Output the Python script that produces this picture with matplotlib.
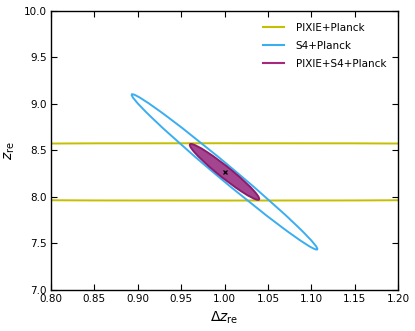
import numpy as np
import matplotlib
matplotlib.use("Agg")
import matplotlib.pyplot as plt
from matplotlib.patches import Ellipse
from matplotlib.lines import Line2D

# Data (forecast contours: centre, half-extents, correlation)
labels = ["PIXIE+Planck", "S4+Planck", "PIXIE+S4+Planck"]
center_x = 1.0
center_y = 8.27
half_x = [1.5, 0.107, 0.040]
half_y = [0.308, 0.835, 0.300]
rho = [0.0, -0.992, -0.965]

xticks = [0.80, 0.85, 0.90, 0.95, 1.00, 1.05, 1.10, 1.15, 1.20]
yticks = [7.0, 7.5, 8.0, 8.5, 9.0, 9.5, 10.0]

edge_colors = ["#c4bf00", "#3aaef0", "#8a1c6e"]
face_colors = ["none", "none", "#a4468f"]
legend_colors = ["#c4bf00", "#3aaef0", "#a8287e"]

plt.rcParams['font.family'] = ['DejaVu Sans']
fig = plt.figure(figsize=(4.15, 3.31), dpi=100)
ax = fig.add_axes([51/415, 1-290/331, (398-51)/415, (290-11)/331])

def ellipse(cx, cy, a, b, r, **kw):
    C = np.array([[a*a, r*a*b], [r*a*b, b*b]])
    vals, vecs = np.linalg.eigh(C)
    order = vals.argsort()[::-1]
    vals, vecs = vals[order], vecs[:, order]
    ang = np.degrees(np.arctan2(vecs[1, 0], vecs[0, 0]))
    return Ellipse((cx, cy), 2*np.sqrt(vals[0]), 2*np.sqrt(vals[1]), angle=ang, **kw)

for i in range(3):
    e = ellipse(center_x, center_y, half_x[i], half_y[i], rho[i],
                facecolor=face_colors[i], edgecolor=edge_colors[i],
                linewidth=1.4, zorder=2 + i)
    ax.add_patch(e)

ax.plot([center_x], [center_y], marker='x', color='black', markersize=3,
        markeredgewidth=0.9, zorder=10)

ax.set_xlim(0.80, 1.20)
ax.set_ylim(7.0, 10.0)
ax.set_xticks(xticks)
ax.set_yticks(yticks)
ax.set_xticklabels([f"{t:.2f}" for t in xticks])
ax.set_yticklabels([f"{t:.1f}" for t in yticks])
ax.tick_params(direction='in', top=True, right=True, length=4, width=0.8,
               labelsize=7.5, pad=3)
for s in ax.spines.values():
    s.set_linewidth(1.0)

ax.set_xlabel(r"$\Delta z_{\rm re}$", fontsize=10, labelpad=4)
ax.set_ylabel(r"$z_{\rm re}$", fontsize=10, labelpad=5)

handles = [Line2D([], [], color=c, linewidth=1.5) for c in legend_colors]
ax.legend(handles, labels, loc='upper right', frameon=False, fontsize=7.5,
          handlelength=2.0, handletextpad=1.15, labelspacing=0.75,
          borderaxespad=0.75)

fig.savefig("out.png", dpi=100)
